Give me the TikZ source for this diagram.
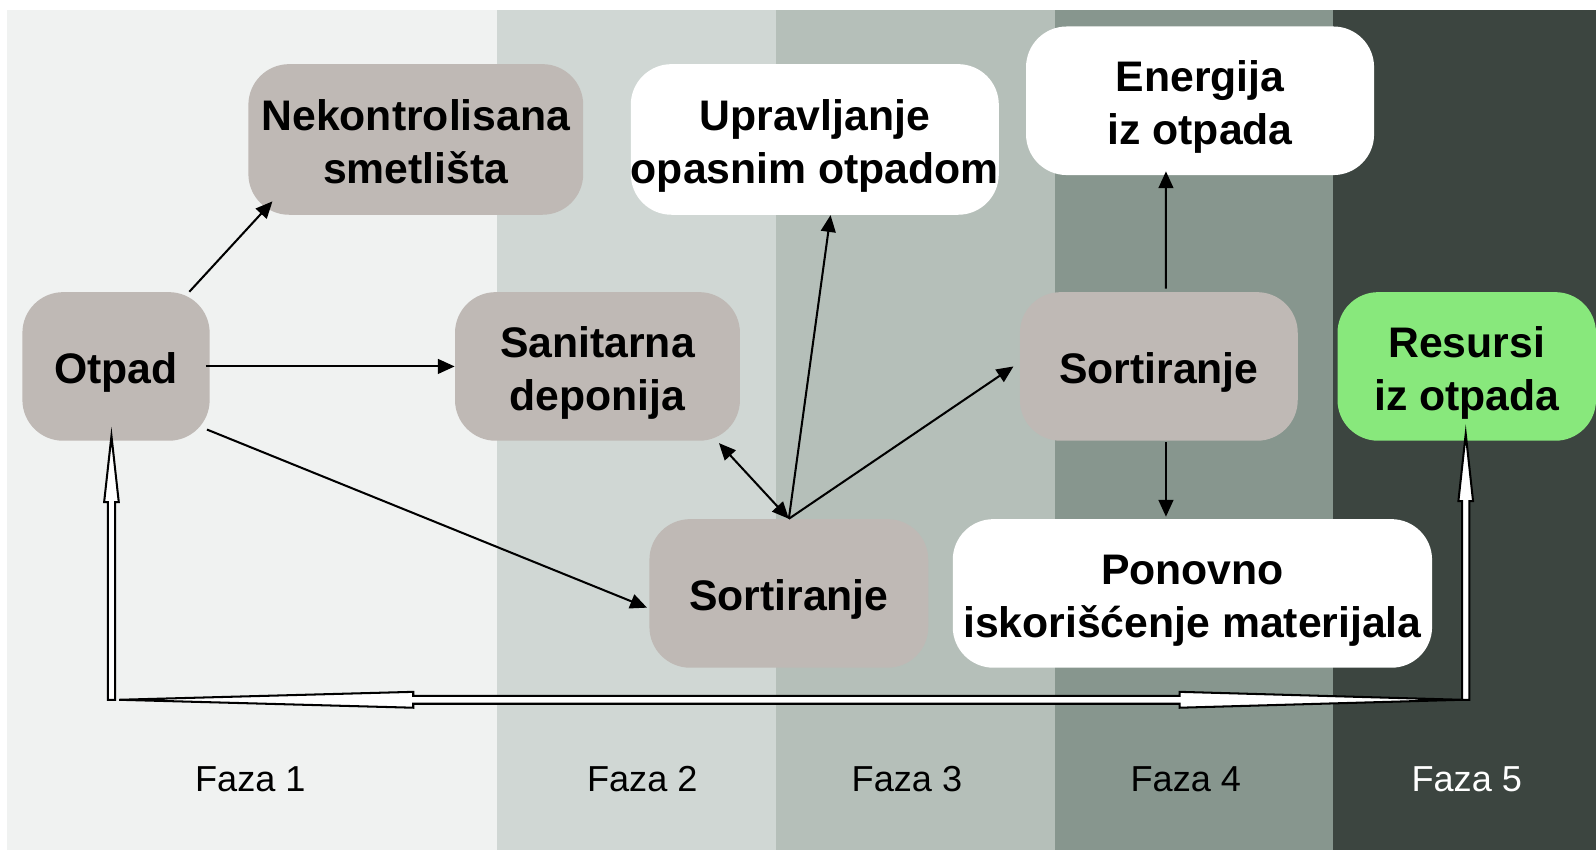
\documentclass[tikz,border=0pt]{standalone}
\usepackage{fontspec}
\setmainfont{Liberation Sans}
\usetikzlibrary{arrows.meta,calc}
\definecolor{stA}{HTML}{F0F2F1}
\definecolor{stB}{HTML}{D0D7D4}
\definecolor{stC}{HTML}{B5BFB9}
\definecolor{stD}{HTML}{87968E}
\definecolor{stE}{HTML}{3C4540}
\definecolor{boxgray}{HTML}{BFB9B5}
\definecolor{boxgreen}{HTML}{88E87C}
\newcommand\bxtop{\rule{0pt}{25.4pt}}
\newcommand\bxbot{\rule[-6pt]{0pt}{6pt}}
\tikzset{
  box/.style={rounded corners=0.8cm, inner sep=0pt, align=center,
    font=\bfseries\fontsize{23.9}{29.5}\selectfont, text=black,
    minimum height=2.92cm},
  graybox/.style={box, fill=boxgray},
  whitebox/.style={box, fill=white},
  greenbox/.style={box, fill=boxgreen},
  conn/.style={line width=0.04cm, -{Triangle[length=0.33cm,width=0.29cm]}},
  biconn/.style={line width=0.04cm, {Triangle[length=0.33cm,width=0.29cm]}-{Triangle[length=0.33cm,width=0.29cm]}},
  hollow/.style={draw=black, fill=white, line width=0.04cm, line join=miter},
  phase/.style={anchor=base, font=\fontsize{20.2}{24}\selectfont, inner sep=0pt}
}
\begin{document}
\begin{tikzpicture}[x=0.02cm,y=-0.02cm]
\useasboundingbox (0,0) rectangle (1568,835);
\fill[white] (0,0) rectangle (1568,835);
% phase stripes
\fill[stA] (7,10) rectangle (488,835);
\fill[stB] (488,10) rectangle (762,835);
\fill[stC] (762,10) rectangle (1036,835);
\fill[stD] (1036,10) rectangle (1310,835);
\fill[stE] (1310,10) rectangle (1568,835);
% boxes
\node[graybox, minimum width=6.58cm, minimum height=2.96cm] (nek) at (408.5,137) {\bxtop Nekontrolisana\\smetlišta\bxbot};
\node[graybox, minimum width=3.68cm] (otpad) at (114,360) {\bxtop Otpad\bxbot};
\node[graybox, minimum width=5.6cm] (san) at (587,360) {\bxtop Sanitarna\\deponija\bxbot};
\node[graybox, minimum width=5.48cm] (sortA) at (775,583) {\bxtop Sortiranje\bxbot};
\node[whitebox, minimum width=7.18cm, minimum height=2.96cm] (upr) at (800.5,137) {\bxtop Upravljanje\\opasnim otpadom\bxbot};
\node[whitebox, minimum width=6.84cm] (ene) at (1179,99) {\bxtop Energija\\iz otpada\bxbot};
\node[graybox, minimum width=5.46cm] (sortB) at (1138.5,360) {\bxtop Sortiranje\bxbot};
\node[whitebox, minimum width=9.42cm] (pon) at (1171.5,583) {\bxtop Ponovno\\iskorišćenje materijala\bxbot};
\node[greenbox, minimum width=5.08cm] (res) at (1441,360) {\bxtop Resursi\\iz otpada\bxbot};
% phase labels
\node[phase] (f1) at (246,778) {Faza 1};
\node[phase] (f2) at (631,778) {Faza 2};
\node[phase] (f3) at (891,778) {Faza 3};
\node[phase] (f4) at (1165,778) {Faza 4};
\node[phase, text=white] (f5) at (1441,778) {Faza 5};
% thin connectors
\draw[conn] ($(otpad.north)+(72,0)$) -- ($(nek.south west)+(24,-13.5)$);
\draw[conn] ($(otpad.east)+(-4,0)$) -- (san.west);
\draw[conn] ($(otpad.east)+(-3,62)$) -- ($(sortA.west)+(-2,14)$);
\coordinate (hub) at (sortA.north);
\draw[biconn] ($(san.south east)+(-21,2)$) -- (hub);
\draw[conn] (hub) -- ($(upr.south)+(15.5,0)$);
\draw[conn] (hub) -- ($(sortB.west)+(-6,0)$);
\draw[conn] ($(sortB.north)+(7,-3)$) -- ($(ene.south)+(-33.5,-4)$);
\draw[conn] ($(sortB.south)+(7,1)$) -- ($(pon.north)+(-26,-2)$);
% hollow arrows
\coordinate (bl) at (109.5,687.5);
\coordinate (br) at (1440,687.5);
\coordinate (tl) at ($(bl |- otpad.south)+(0,-5)$);
\coordinate (tr) at ($(br |- res.south)+(0,-7)$);
\draw[hollow] ($(bl)+(-3.6,0)$) -- ($(tl)+(-3.6,65)$) -- ($(tl)+(-7.2,65)$) -- (tl) -- ($(tl)+(7.2,65)$) -- ($(tl)+(3.6,65)$) -- ($(bl)+(3.6,0)$) -- cycle;
\draw[hollow] ($(br)+(-3.6,0)$) -- ($(tr)+(-3.6,66)$) -- ($(tr)+(-7.2,66)$) -- (tr) -- ($(tr)+(7.2,66)$) -- ($(tr)+(3.6,66)$) -- ($(br)+(3.6,0)$) -- cycle;
\draw[hollow] ($(bl)+(7.5,0)$) -- ($(bl)+(296.5,-7.8)$) -- ($(bl)+(296.5,-3.9)$) -- ($(br)+(-281,-3.9)$) -- ($(br)+(-281,-7.8)$) -- ($(br)+(-4,0)$) -- ($(br)+(-281,7.8)$) -- ($(br)+(-281,3.9)$) -- ($(bl)+(296.5,3.9)$) -- ($(bl)+(296.5,7.8)$) -- cycle;
\end{tikzpicture}
\end{document}
